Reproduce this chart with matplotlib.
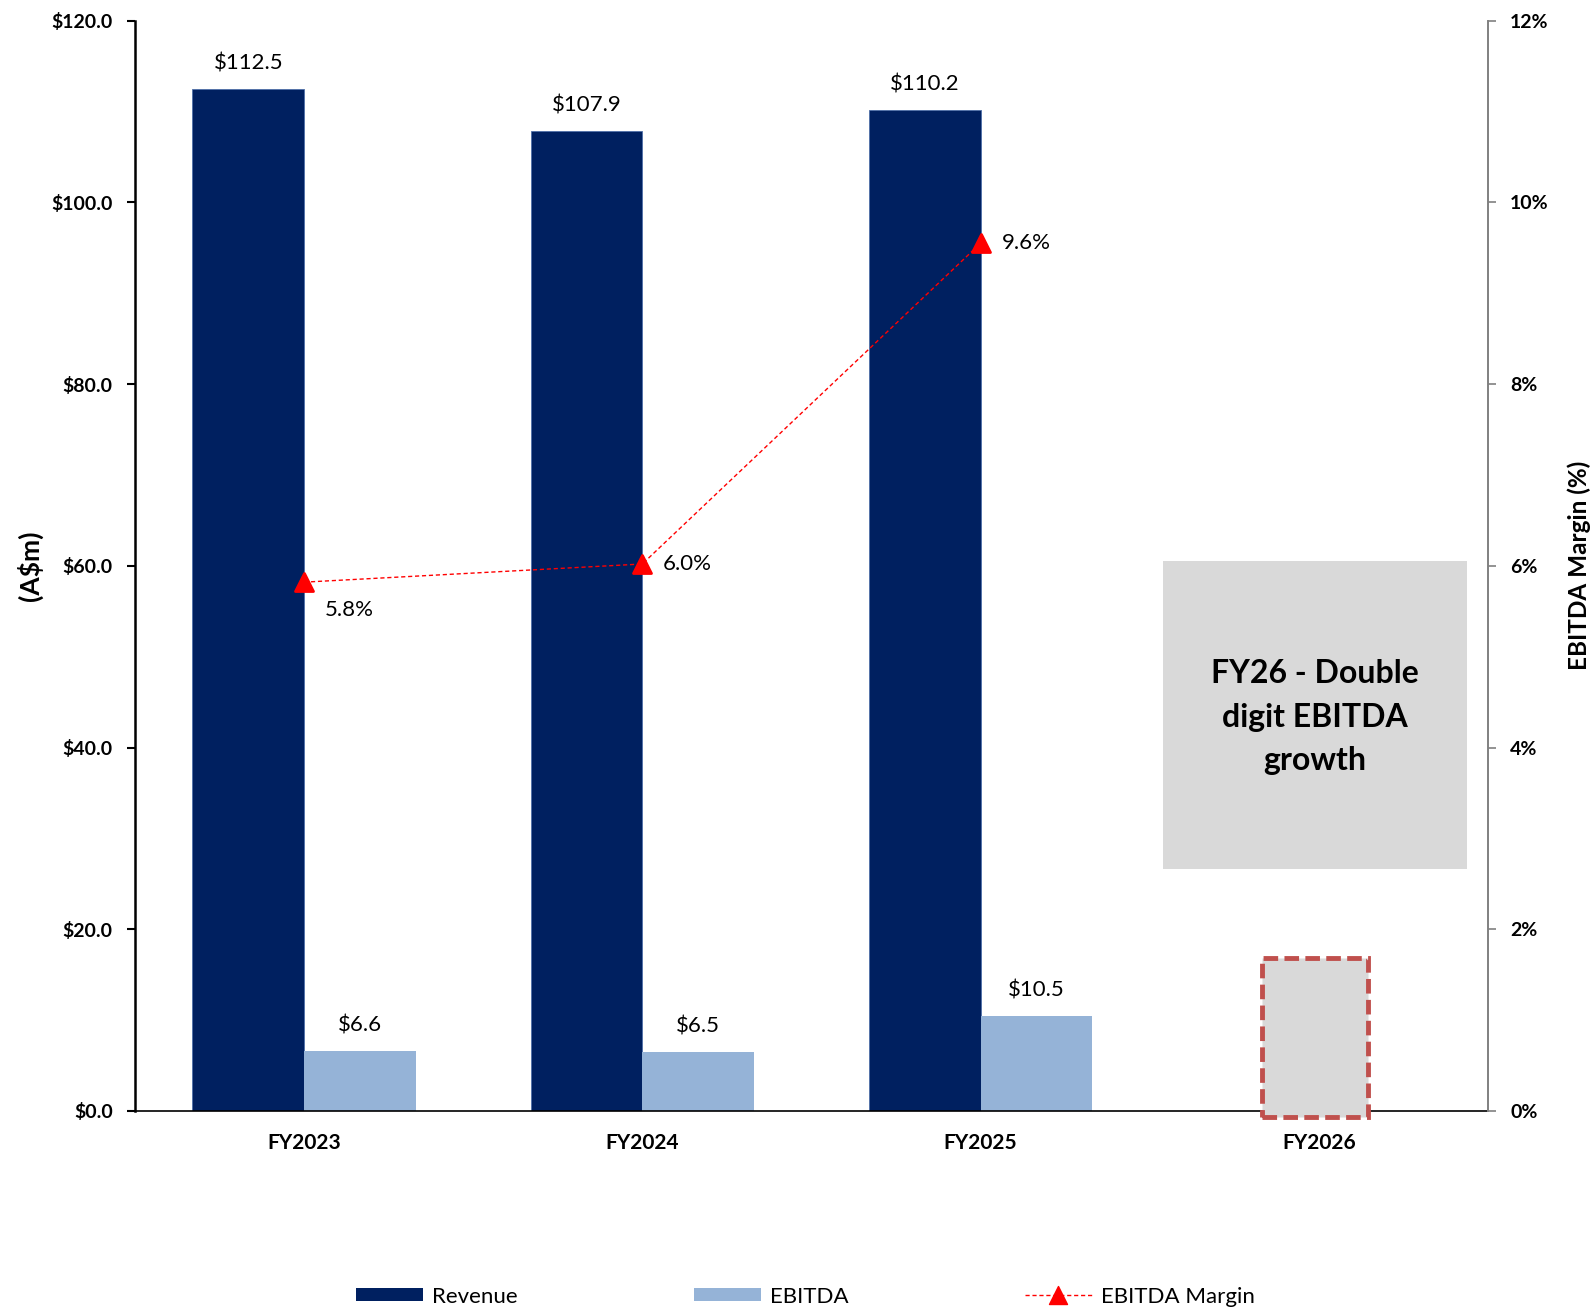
import matplotlib
matplotlib.use("Agg")
import matplotlib.pyplot as plt
from matplotlib.markers import MarkerStyle
from matplotlib.patches import Rectangle, Patch
from matplotlib.lines import Line2D
import numpy as np

plt.rcParams['font.family'] = ['Lato', 'DejaVu Sans']

# data
years = ["FY2023", "FY2024", "FY2025", "FY2026"]
revenue = [112.5, 107.9, 110.2]
ebitda = [6.6, 6.5, 10.5]
margin = [0.0582, 0.0602, 0.0955]
margin_labels = ["5.8%", "6.0%", "9.6%"]
fy26_placeholder = 16.8
note_text = "FY26 - Double\ndigit EBITDA\ngrowth"

navy = "#002060"
light = "#95B3D7"
red = "#FF0000"

fig = plt.figure(figsize=(15.95, 13.07), dpi=100)
ax = fig.add_axes([0.0846, 0.15, 0.8483, 0.8342])
ax2 = ax.twinx()

x = np.arange(len(years))
w = 0.33
xr = x[:len(revenue)]

b1 = ax.bar(xr - w / 2, revenue, w, color=navy, edgecolor="#4F6FA8", linewidth=0.6, zorder=2)
b2 = ax.bar(xr + w / 2, ebitda, w, color=light, zorder=2)
# dashed placeholder column for FY2026
ax.bar(x[3] - 0.012, fy26_placeholder + 0.7, 0.315, bottom=-0.7, color="#D9D9D9", edgecolor="#C0504D",
       linewidth=3.5, linestyle=(0, (3, 1.3)), clip_on=False, zorder=3)

for r in list(b1) + list(b2):
    ax.annotate("$%.1f" % r.get_height(), (r.get_x() + r.get_width() / 2, r.get_height()),
                xytext=(0, 11), textcoords="offset points", ha="center", va="bottom", fontsize=16)

tri = MarkerStyle("^", joinstyle="round")
ax2.plot(xr, margin, color=red, linestyle=(0, (3, 2)), linewidth=1.0,
         marker=tri, markersize=13, markerfacecolor=red, markeredgecolor=red,
         markeredgewidth=2, zorder=4)
offs = [(15, -20), (15, 0), (15, 0)]
for xi, m, lab, o in zip(xr, margin, margin_labels, offs):
    ax2.annotate(lab, (xi, m), xytext=o, textcoords="offset points",
                 ha="left", va="center", fontsize=16)

ax.set_xlim(-0.5, 3.5)
ax.set_ylim(0, 120)
ax.set_yticks(np.arange(0, 121, 20))
ax.set_yticklabels(["$%.1f" % v for v in np.arange(0, 121, 20)], fontweight="bold", fontsize=14)
ax.set_xticks(x)
ax.set_xticklabels(years, fontweight="bold", fontsize=15)
ax.tick_params(axis="x", length=0, pad=16)
ax.tick_params(axis="y", length=6, width=1.5, pad=10)

ax2.set_ylim(0, 0.12)
ax2.set_yticks(np.arange(0, 0.121, 0.02))
ax2.set_yticklabels(["%d%%" % round(v * 100) for v in np.arange(0, 0.121, 0.02)],
                    fontweight="bold", fontsize=14)
ax2.tick_params(axis="y", length=6, width=1.2, color="#808080", pad=10)

for a in (ax, ax2):
    a.spines["top"].set_visible(False)
ax.spines["right"].set_visible(False)
ax2.spines["left"].set_visible(False)
ax2.spines["bottom"].set_visible(False)
ax.spines["left"].set_linewidth(1.8)
ax.spines["bottom"].set_linewidth(1.2)
ax2.spines["right"].set_color("#808080")
ax2.spines["right"].set_linewidth(1.4)

ax.set_ylabel("(A$m)", fontweight="bold", fontsize=19)
ax.yaxis.set_label_coords(-0.068, 0.5)
ax2.set_ylabel("EBITDA Margin (%)", fontweight="bold", fontsize=17.5)
ax2.yaxis.set_label_coords(1.059, 0.5)

# grey note box
ax2.add_patch(Rectangle((0.760, 0.222), 0.2245, 0.2826, transform=ax.transAxes,
                        facecolor="#D9D9D9", edgecolor="none", zorder=1))
ax2.text(0.872, 0.361, note_text, transform=ax.transAxes, ha="center", va="center",
         fontsize=23, fontweight="bold", linespacing=1.6, zorder=5)

handles = [Patch(facecolor=navy), Patch(facecolor=light),
           Line2D([], [], color=red, linestyle=(0, (3, 2)), linewidth=1.0,
                  marker=tri, markersize=13, markerfacecolor=red, markeredgecolor=red)]
fig.legend(handles, ["Revenue", "EBITDA", "EBITDA Margin"], loc="center",
           bbox_to_anchor=(0.505, 0.008), ncol=3, frameon=False, fontsize=16,
           handlelength=3.0, handleheight=0.55, handletextpad=0.4, columnspacing=7.95)

fig.savefig("out.png", dpi=100)
